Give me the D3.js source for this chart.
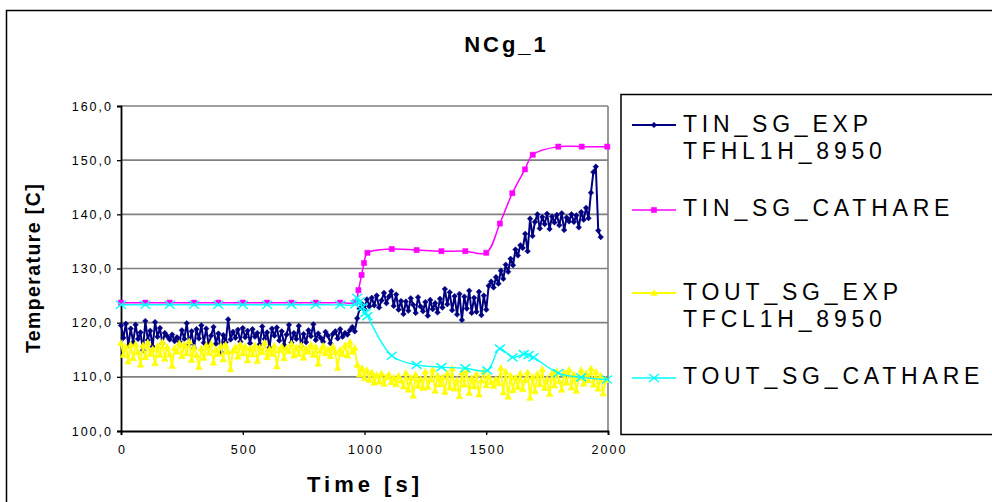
<!DOCTYPE html>
<html>
<head>
<meta charset="utf-8">
<script src="https://cdn.jsdelivr.net/npm/d3@7"></script>
<style>
  html, body { margin: 0; padding: 0; background: #fff; }
  svg { display: block; font-family: "Liberation Sans", Arial, sans-serif; }
</style>
</head>
<body>
<svg id="chart" width="992" height="502"></svg>
<script>
// ---- data -------------------------------------------------------------
// Measured loop temperatures, sampled every 10 s from t = 0
const expStep = 10;

const tinSgExp = [
  119.5, 117.2, 119.8, 115.8, 118.9, 116.4, 119.6, 117.0, 118.2, 114.9,
  120.3, 116.8, 118.5, 115.6, 120.1, 117.4, 119.0, 116.2, 118.1, 117.5,
  116.9, 117.8, 116.6, 117.3, 116.5, 118.6, 117.0, 119.9, 116.0, 118.4,
  115.3, 118.8, 117.1, 119.5, 116.3, 118.9, 115.9, 117.6, 119.2, 116.1,
  118.0, 114.6, 117.7, 116.4, 120.6, 116.9, 118.3, 117.2, 118.7, 116.5,
  119.0, 117.3, 118.5, 116.2, 118.8, 117.4, 118.1, 116.0, 119.3, 117.0,
  118.2, 115.4, 118.9, 117.6, 119.1, 116.7, 118.4, 115.9, 117.8, 119.6,
  116.3, 118.1, 117.0, 119.4, 115.6, 117.9, 116.4, 118.6, 117.5, 119.7,
  116.8, 118.0, 117.2, 116.5, 118.3, 117.6, 116.2, 117.9, 118.4, 117.1,
  118.8, 117.4, 118.1, 117.8, 118.6, 119.2, 118.4, 120.8, 122.6, 123.4,
  122.5, 124.3, 123.0, 124.6, 123.2, 125.0, 122.8, 124.1, 125.5, 123.6,
  124.8, 125.8, 123.1, 125.2, 122.4, 124.0, 121.6, 123.9, 122.2, 124.5,
  123.3, 121.8, 124.7, 123.0, 122.1, 123.8, 121.3, 124.2, 122.5, 123.6,
  121.9, 124.4, 122.8, 126.2, 123.4, 125.6, 122.3, 124.9, 121.5, 125.3,
  120.5, 124.8, 122.6, 125.9, 121.8, 124.6, 122.0, 125.7, 121.4, 125.0,
  122.4, 126.8, 127.6, 126.5, 128.4, 127.2, 129.6, 128.1, 130.7, 129.4,
  131.8, 130.6, 133.5, 132.4, 134.3, 133.8, 136.4, 133.2, 139.2, 136.0,
  138.6, 140.0, 137.4, 139.5, 138.2, 140.1, 137.3, 139.6, 138.5, 139.9,
  138.0, 140.2, 137.1, 139.4, 138.7, 140.0, 138.6, 139.8, 137.6, 140.4,
  139.0, 141.2, 139.3, 144.0, 147.8, 148.8, 137.0, 135.8
];

const toutSgExp = [
  116.2, 114.0, 115.6, 112.8, 115.9, 113.4, 116.0, 114.5, 112.2, 115.8,
  113.6, 116.3, 114.2, 115.1, 112.5, 115.7, 114.0, 116.4, 113.3, 115.5,
  114.1, 112.0, 115.3, 114.6, 116.2, 113.8, 115.9, 114.3, 116.5, 113.1,
  115.4, 114.0, 111.8, 115.2, 113.5, 115.8, 114.4, 116.1, 112.6, 115.0,
  114.2, 115.7, 113.2, 115.9, 114.6, 111.4, 114.8, 115.5, 113.7, 116.0,
  114.3, 115.6, 113.0, 115.2, 114.1, 115.8, 112.9, 115.4, 114.5, 116.3,
  113.6, 115.1, 114.2, 115.7, 111.9, 114.9, 115.6, 113.4, 115.3, 114.7,
  116.1, 113.9, 115.4, 114.2, 115.8, 113.5, 115.2, 114.6, 115.9, 114.0,
  115.5, 112.4, 114.8, 115.7, 114.3, 115.1, 113.8, 115.6, 114.5, 111.6,
  115.0, 114.2, 115.8, 113.9, 116.4, 114.6, 115.3, 112.2, 110.4, 111.6,
  109.7, 111.2, 109.4, 110.8, 108.9, 110.3, 109.1, 110.6, 108.7, 109.9,
  110.4, 109.0, 109.8, 108.6, 110.2, 109.3, 108.2, 110.7, 107.6, 109.8,
  106.5, 110.4, 108.3, 109.6, 107.9, 110.9, 108.1, 109.5, 111.3, 107.4,
  110.2, 108.6, 109.9, 107.2, 110.6, 108.0, 111.5, 107.8, 109.4, 106.4,
  110.8, 108.5, 111.2, 107.0, 109.7, 108.2, 110.5, 106.7, 109.3, 111.0,
  108.4, 110.1, 109.0, 108.3, 109.6, 108.8, 111.6, 107.1, 110.9, 106.3,
  110.2, 107.5, 109.8, 108.1, 110.6, 107.7, 109.4, 110.8, 106.1, 109.9,
  107.3, 110.5, 108.6, 111.4, 107.9, 109.6, 106.8, 110.7, 108.4, 111.0,
  109.2, 107.6, 110.8, 108.9, 111.3, 108.0, 110.4, 107.4, 109.8, 111.2,
  108.7, 110.6, 109.3, 111.5, 108.5, 110.9, 107.8, 110.2, 106.9, 109.4
];

// CATHARE calculation output (time [s], temperature [C])
const tinCatTime  = [0, 100, 200, 300, 400, 500, 600, 700, 800, 900, 962, 975, 988, 998, 1012,
                     1112, 1214, 1316, 1414, 1500, 1556, 1607, 1659, 1691, 1796, 1892, 1997];
const tinCatValue = [123.7, 123.7, 123.7, 123.7, 123.7, 123.7, 123.7, 123.7, 123.7, 123.7, 123.8,
                     126.0, 128.8, 131.0, 132.9, 133.6, 133.4, 133.2, 133.2, 132.9, 138.3, 143.9,
                     148.3, 151.0, 152.5, 152.5, 152.5];

const toutCatTime  = [0, 100, 200, 300, 400, 500, 600, 700, 800, 900, 962, 970, 980, 992, 1004, 1012,
                      1112, 1214, 1316, 1414, 1504, 1556, 1608, 1654, 1674, 1694, 1796, 1890, 1996];
const toutCatValue = [123.3, 123.3, 123.3, 123.3, 123.3, 123.3, 123.3, 123.3, 123.3, 123.3, 123.4,
                      124.6, 123.9, 122.9, 121.8, 121.2, 113.9, 112.2, 111.8, 111.6, 111.2, 115.2,
                      113.6, 114.2, 114.0, 113.6, 110.7, 109.9, 109.5];

const yTicks = [100, 110, 120, 130, 140, 150, 160];
const yTickLabels = ["100,0", "110,0", "120,0", "130,0", "140,0", "150,0", "160,0"];
const xTicks = [0, 500, 1000, 1500, 2000];
const xTickLabels = ["0", "500", "1000", "1500", "2000"];

const seriesNames = [
  ["TIN_SG_EXP", "TFHL1H_8950"],
  ["TIN_SG_CATHARE"],
  ["TOUT_SG_EXP", "TFCL1H_8950"],
  ["TOUT_SG_CATHARE"]
];

// ---- layout ------------------------------------------------------------
const svg = d3.select("#chart");
const plot = { left: 121, right: 608, top: 106, bottom: 431 };

const x = d3.scaleLinear().domain([0, 2000]).range([plot.left, plot.right]);
const y = d3.scaleLinear().domain([100, 160]).range([plot.bottom, plot.top]);

const expPoints = vals => vals.map((v, i) => ({ t: i * expStep, v }));
const pairPoints = (ts, vs) => ts.map((t, i) => ({ t, v: vs[i] }));

const series = [
  { pts: expPoints(tinSgExp), color: "#000080", width: 2, curve: d3.curveLinear, marker: "diamond" },
  { pts: pairPoints(tinCatTime, tinCatValue), color: "#ff00ff", width: 1.5, curve: d3.curveCatmullRom, marker: "square" },
  { pts: expPoints(toutSgExp), color: "#ffff00", width: 1.8, curve: d3.curveLinear, marker: "triangle" },
  { pts: pairPoints(toutCatTime, toutCatValue), color: "#00ffff", width: 1.4, curve: d3.curveCatmullRom, marker: "cross" }
];

const markerPath = {
  diamond: "M0,-2.8L2.8,0L0,2.8L-2.8,0Z",
  square: "M-2.6,-2.6H2.6V2.6H-2.6Z",
  triangle: "M0,-3.6L3.3,2.4H-3.3Z",
  cross: "M-5,-4L5,4M-5,4L5,-4"
};

// outer chart frame (runs off the right and bottom edges)
svg.append("rect")
  .attr("x", 6.5).attr("y", 10.5).attr("width", 1000).attr("height", 520)
  .attr("fill", "none").attr("stroke", "#000").attr("stroke-width", 1.5);

// title
svg.append("text")
  .attr("x", 505 + 1.5).attr("y", 52)
  .attr("text-anchor", "middle")
  .attr("font-size", 22).attr("font-weight", "bold")
  .attr("letter-spacing", 3)
  .text("NCg_1");

// horizontal grid lines
svg.append("g").selectAll("line")
  .data(yTicks.filter(d => d > 100))
  .join("line")
  .attr("x1", plot.left).attr("x2", plot.right)
  .attr("y1", d => y(d)).attr("y2", d => y(d))
  .attr("stroke", "#808080").attr("stroke-width", 1.6);

// right border of plot area
svg.append("line")
  .attr("x1", plot.right).attr("x2", plot.right)
  .attr("y1", plot.top).attr("y2", plot.bottom)
  .attr("stroke", "#808080").attr("stroke-width", 1.6);

// axes
const yAxis = d3.axisLeft(y).tickValues(yTicks).tickSize(4).tickPadding(6)
  .tickFormat((d, i) => yTickLabels[i]);
const xAxis = d3.axisBottom(x).tickValues(xTicks).tickSize(4).tickPadding(10)
  .tickFormat((d, i) => xTickLabels[i]);

const gy = svg.append("g").attr("transform", `translate(${plot.left},0)`).call(yAxis);
const gx = svg.append("g").attr("transform", `translate(0,${plot.bottom})`).call(xAxis);

[gx, gy].forEach(g => {
  g.select(".domain").attr("stroke", "#000").attr("stroke-width", 1.8);
  g.selectAll(".tick line").attr("stroke", "#000").attr("stroke-width", 1.3);
  g.selectAll(".tick text")
    .attr("fill", "#000")
    .attr("font-family", "'Liberation Sans', Arial, sans-serif")
    .attr("font-size", 12.5)
    .attr("letter-spacing", 2);
});
gy.selectAll(".tick text").attr("dx", 2);
gx.selectAll(".tick text").attr("dx", 1);

// axis titles
svg.append("text")
  .attr("transform", "translate(40,268) rotate(-90)")
  .attr("text-anchor", "middle")
  .attr("font-size", 19.5).attr("font-weight", "bold")
  .attr("letter-spacing", 1.4)
  .text("Temperature [C]");

svg.append("text")
  .attr("x", 365).attr("y", 492)
  .attr("text-anchor", "middle")
  .attr("font-size", 22).attr("font-weight", "bold")
  .attr("letter-spacing", 4)
  .text("Time [s]");

// series lines and markers
const plotG = svg.append("g");
series.forEach(s => {
  const line = d3.line().x(d => x(d.t)).y(d => y(d.v)).curve(s.curve);
  plotG.append("path")
    .attr("d", line(s.pts))
    .attr("fill", "none")
    .attr("stroke", s.color)
    .attr("stroke-width", s.width)
    .attr("stroke-linejoin", "round");
  const isStroke = s.marker === "cross";
  plotG.append("g").selectAll("path")
    .data(s.pts)
    .join("path")
    .attr("transform", d => `translate(${x(d.t)},${y(d.v)})`)
    .attr("d", markerPath[s.marker])
    .attr("fill", isStroke ? "none" : s.color)
    .attr("stroke", s.color)
    .attr("stroke-width", isStroke ? 1.4 : 0.5);
});

// legend
const legend = svg.append("g");
legend.append("rect")
  .attr("x", 621).attr("y", 94.5).attr("width", 400).attr("height", 340)
  .attr("fill", "#fff").attr("stroke", "#000").attr("stroke-width", 1.5);

const legendLineY = [125, 210, 293, 378];
const legendBaseY = [132, 216, 300, 384];
series.forEach((s, i) => {
  const ly = legendLineY[i];
  legend.append("line")
    .attr("x1", 632).attr("x2", 676).attr("y1", ly).attr("y2", ly)
    .attr("stroke", s.color).attr("stroke-width", s.width);
  legend.append("path")
    .attr("transform", `translate(654,${ly})`)
    .attr("d", markerPath[s.marker])
    .attr("fill", s.marker === "cross" ? "none" : s.color)
    .attr("stroke", s.color)
    .attr("stroke-width", s.marker === "cross" ? 1.4 : 0.5);
  const txt = legend.append("text")
    .attr("x", 683).attr("y", legendBaseY[i])
    .attr("font-size", 23)
    .attr("letter-spacing", 4.8)
    .attr("fill", "#000");
  seriesNames[i].forEach((name, k) => {
    txt.append("tspan")
      .attr("x", 683)
      .attr("dy", k === 0 ? 0 : 27)
      .text(name);
  });
});
</script>
</body>
</html>
